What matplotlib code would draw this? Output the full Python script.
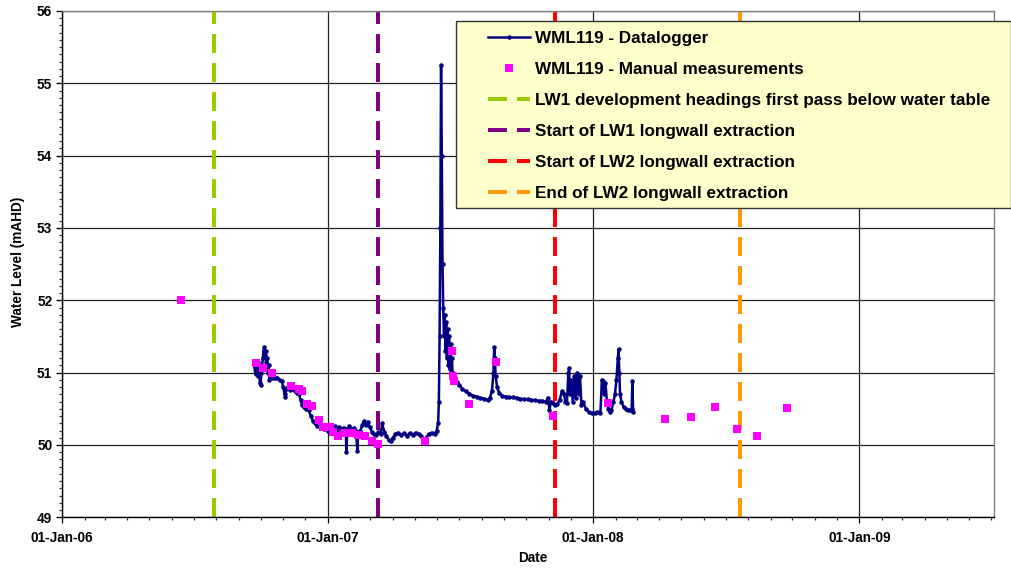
import matplotlib
matplotlib.use("Agg")
import matplotlib.pyplot as plt
import matplotlib.dates as mdates
from matplotlib.patches import Rectangle
from matplotlib.ticker import MultipleLocator
import pandas as pd
import numpy as np

plt.rcParams['font.family'] = ['Liberation Sans', 'DejaVu Sans']
plt.rcParams['font.weight'] = 'bold'

# ---------------- data ----------------
record_start = '2006-01-01'
# datalogger readings: days since record_start, water level (mAHD)
logger_days = [264, 266, 267, 268, 269, 270, 271, 272, 273, 274, 275, 276, 277, 278, 279, 280,
               281, 282, 283, 284, 285, 286, 288, 290, 293, 296, 299, 302, 304, 306, 307, 308,
               310, 313, 316, 320, 323, 326, 328, 330, 333, 336, 339, 342, 345, 348, 351, 354,
               357, 360, 363, 366, 369, 372, 375, 378, 381, 384, 387, 390, 391, 392, 395, 398,
               401, 404, 406, 407, 410, 413, 415, 418, 420, 423, 426, 429, 432, 435, 438, 440,
               443, 446, 449, 452, 455, 458, 462, 466, 470, 474, 478, 482, 486, 490, 494, 497,
               500, 504, 508, 512, 515, 517, 518, 519, 520, 521, 522, 523, 524, 525, 526, 527,
               528, 529, 530, 531, 532, 533, 534, 535, 536, 537, 538, 540, 543, 546, 550, 555,
               560, 565, 570, 575, 580, 585, 588, 591, 593, 594, 595, 596, 598, 601, 605, 610,
               615, 620, 625, 630, 635, 640, 645, 650, 655, 660, 665, 668, 670, 672, 675, 678,
               681, 684, 687, 690, 692, 694, 696, 697, 698, 700, 702, 704, 706, 708, 710, 712,
               714, 716, 720, 724, 728, 732, 736, 740, 742, 744, 745, 747, 749, 751, 753, 755,
               758, 760, 762, 764, 765, 766, 767, 769, 772, 775, 778, 781, 783, 784, 785]
logger_levels = [51.10, 50.98, 51.12, 51.00, 51.15, 50.95, 51.05, 50.85, 50.83, 51.00, 51.08, 51.20,
                 51.30, 51.35, 51.25, 51.30, 51.15, 51.20, 51.00, 51.10, 50.90, 50.95, 50.92, 50.95,
                 50.92, 50.93, 50.90, 50.88, 50.80, 50.70, 50.66, 50.78, 50.80, 50.76, 50.78, 50.74,
                 50.72, 50.70, 50.62, 50.55, 50.52, 50.50, 50.48, 50.40, 50.33, 50.30, 50.26, 50.25,
                 50.24, 50.22, 50.24, 50.20, 50.25, 50.22, 50.26, 50.20, 50.25, 50.22, 50.24, 50.20,
                 49.90, 50.22, 50.26, 50.22, 50.24, 50.20, 49.92, 50.18, 50.20, 50.28, 50.33, 50.28,
                 50.32, 50.25, 50.18, 50.15, 50.14, 50.18, 50.15, 50.30, 50.18, 50.12, 50.07, 50.05,
                 50.10, 50.15, 50.17, 50.14, 50.16, 50.13, 50.16, 50.14, 50.17, 50.15, 50.12, 50.07,
                 50.10, 50.15, 50.17, 50.15, 50.20, 50.30, 50.60, 51.50, 53.00, 55.25, 54.00, 52.50,
                 51.90, 51.50, 51.80, 51.30, 51.70, 51.20, 51.60, 51.10, 51.50, 51.05, 51.40, 51.00,
                 51.20, 50.95, 51.00, 50.90, 50.87, 50.83, 50.78, 50.74, 50.71, 50.68, 50.67, 50.65,
                 50.64, 50.62, 50.65, 50.75, 51.00, 51.35, 51.20, 50.95, 50.80, 50.72, 50.68, 50.67,
                 50.66, 50.66, 50.65, 50.64, 50.63, 50.63, 50.62, 50.62, 50.61, 50.61, 50.60, 50.65,
                 50.48, 50.60, 50.58, 50.55, 50.57, 50.62, 50.74, 50.70, 50.60, 50.58, 51.00, 51.06,
                 50.70, 50.90, 50.60, 50.95, 50.65, 51.00, 50.70, 50.95, 50.55, 50.60, 50.50, 50.45,
                 50.44, 50.44, 50.46, 50.44, 50.90, 50.88, 50.70, 50.85, 50.60, 50.50, 50.46, 50.48,
                 50.60, 50.70, 50.90, 51.20, 51.32, 51.00, 50.70, 50.60, 50.52, 50.50, 50.48, 50.48,
                 50.50, 50.88, 50.45]

manual_dates = ['2006-06-13', '2006-09-25', '2006-10-04', '2006-10-17', '2006-11-12', '2006-11-23',
                '2006-11-27', '2006-12-04', '2006-12-11', '2006-12-20', '2006-12-26', '2007-01-04',
                '2007-01-09', '2007-01-16', '2007-01-25', '2007-02-03', '2007-02-12', '2007-02-21',
                '2007-03-03', '2007-03-12', '2007-05-15', '2007-06-21', '2007-06-22', '2007-06-24',
                '2007-07-15', '2007-08-20', '2007-11-07', '2008-01-21', '2008-04-09', '2008-05-14',
                '2008-06-16', '2008-07-17', '2008-08-13', '2008-09-24']
manual_levels = [52.00, 51.14, 51.06, 50.99, 50.82, 50.78, 50.75, 50.57, 50.54, 50.34, 50.25, 50.25,
                 50.18, 50.13, 50.17, 50.16, 50.14, 50.12, 50.05, 50.02, 50.05, 51.30, 50.95, 50.89,
                 50.57, 51.15, 50.40, 50.58, 50.36, 50.38, 50.52, 50.22, 50.13, 50.51]

event_dates = ['2006-07-29', '2007-03-11', '2007-11-10', '2008-07-21']
event_labels = ['LW1 development headings first pass below water table',
                'Start of LW1 longwall extraction',
                'Start of LW2 longwall extraction',
                'End of LW2 longwall extraction']
series_labels = ['WML119 - Datalogger', 'WML119 - Manual measurements']
x_range = ['2006-01-01', '2009-07-05']
y_range = [49, 56]

# ---------------- style ----------------
event_colors = ['#99CC00', '#800080', '#FF0000', '#FF9900']
W, H = 1011, 571

fig = plt.figure(figsize=(W / 100, H / 100), dpi=100)
ax = fig.add_axes([62 / W, 1 - 517.3 / H, (994 - 62) / W, (517.3 - 11) / H])

logger_x = pd.Timestamp(record_start) + pd.to_timedelta(logger_days, unit='D')
manual_x = pd.to_datetime(manual_dates)

# gridlines
ax.grid(True, which='major', axis='both', color='#222222', linewidth=0.9)
ax.set_axisbelow(True)

handles = []
h1, = ax.plot(logger_x, logger_levels, color='#000080', linewidth=1.8, marker='.',
              markersize=4.5, zorder=3, label=series_labels[0])
h2, = ax.plot(manual_x, manual_levels, linestyle='none', marker='s', markersize=6.3,
              color='#FF00FF', markeredgewidth=0, zorder=4, label=series_labels[1])
handles += [h1, h2]
for d, lab, c in zip(event_dates, event_labels, event_colors):
    h = ax.axvline(pd.Timestamp(d), color=c, linewidth=2.9, dashes=(4.7, 2.5), zorder=2, label=lab)
    handles.append(h)

ax.set_xlim(pd.Timestamp(x_range[0]), pd.Timestamp(x_range[1]))
ax.set_ylim(*y_range)

ax.xaxis.set_major_locator(mdates.YearLocator())
ax.xaxis.set_major_formatter(mdates.DateFormatter('%d-%b-%y'))
ax.xaxis.set_minor_locator(mdates.MonthLocator())
ax.yaxis.set_major_locator(MultipleLocator(1))
ax.yaxis.set_minor_locator(MultipleLocator(0.1))

ax.tick_params(axis='both', which='major', direction='out', length=4, width=0.9,
               labelsize=9.8, color='black')
ax.tick_params(axis='both', which='minor', direction='out', length=2.3, width=0.9, color='#333333')
ax.tick_params(axis='x', which='major', pad=6)
ax.tick_params(axis='y', which='major', pad=3)
for lab in ax.get_xticklabels() + ax.get_yticklabels():
    lab.set_fontweight('bold')

for s in ['left', 'bottom']:
    ax.spines[s].set_color('black')
    ax.spines[s].set_linewidth(1.0)
for s in ['top', 'right']:
    ax.spines[s].set_color('#808080')
    ax.spines[s].set_linewidth(1.0)

fig.text(18 / W, 1 - 262 / H, 'Water Level (mAHD)', rotation=90, ha='center', va='center',
         fontsize=9.8, fontweight='bold')
fig.text(533 / W, 1 - 558 / H, 'Date', ha='center', va='center', fontsize=9.8, fontweight='bold')

# legend frame
rect = Rectangle((455.7 / W, 1 - 208.3 / H), (1010.5 - 455.7) / W, (208.3 - 20.7) / H,
                 transform=fig.transFigure, facecolor='#FFFFCC', edgecolor='#333333',
                 linewidth=1.0, zorder=10, clip_on=False)
ax.add_artist(rect)
leg = ax.legend(handles=handles, loc='upper left', bbox_to_anchor=(474 / W, 1 - 17.8 / H),
                bbox_transform=fig.transFigure, frameon=False,
                handlelength=2.5, handletextpad=0.25, labelspacing=0.93, borderpad=0.3,
                prop={'weight': 'bold', 'size': 12.3})
leg.set_zorder(11)

fig.savefig('out.png', dpi=100)
